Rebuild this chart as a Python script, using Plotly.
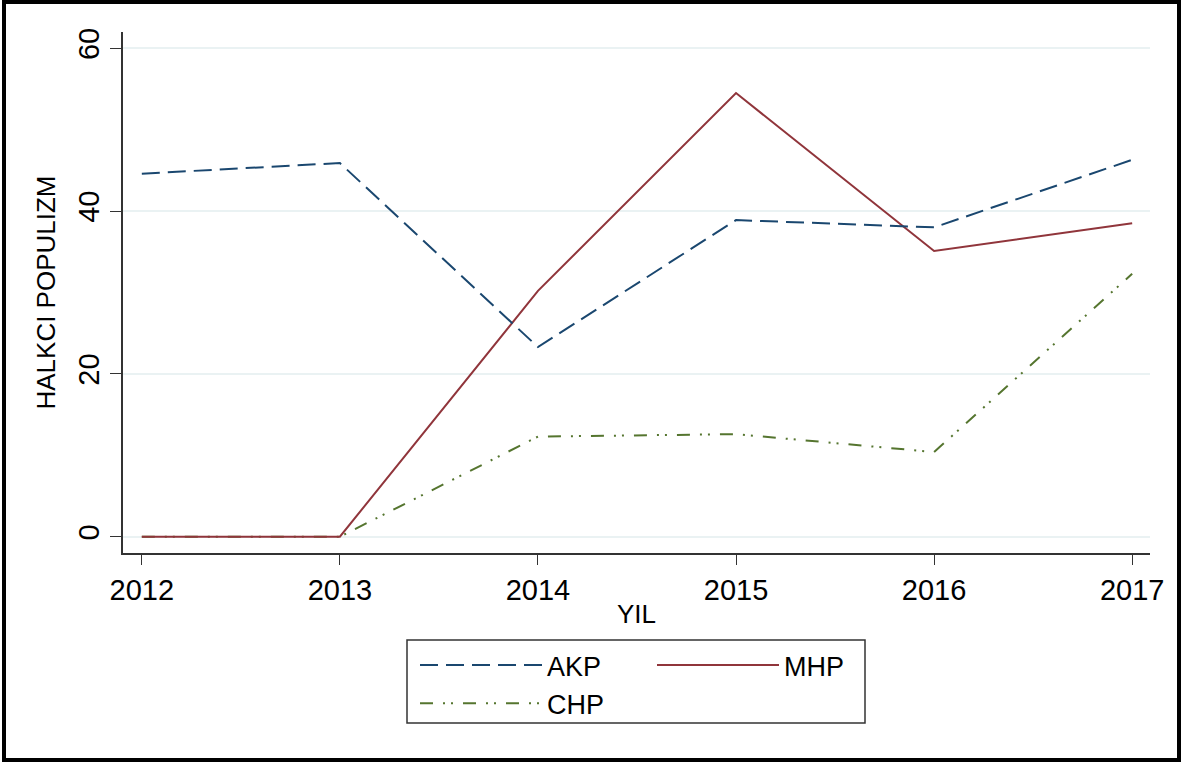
import plotly.graph_objects as go

years = [2012, 2013, 2014, 2015, 2016, 2017]
akp = [44.6, 45.9, 23.3, 38.9, 38.0, 46.3]
mhp = [0.0, 0.0, 30.2, 54.5, 35.1, 38.5]
chp = [0.0, 0.0, 12.3, 12.6, 10.4, 32.3]

FONT = "Liberation Sans, Arial, sans-serif"

fig = go.Figure()
fig.add_trace(go.Scatter(x=years, y=chp, name="CHP", mode="lines",
                         line=dict(color="#55752f", width=2, dash="13px,10px,2px,6px,2px,10px"),
                         legend="legend"))
fig.add_trace(go.Scatter(x=years, y=mhp, name="MHP", mode="lines",
                         line=dict(color="#90353b", width=2),
                         legend="legend2"))
fig.add_trace(go.Scatter(x=years, y=akp, name="AKP", mode="lines",
                         line=dict(color="#1a476f", width=2, dash="18px,8px"),
                         legend="legend"))

W, H = 1182, 763
L, R, T, B = 123, 32, 32, 210
pw, ph = W - L - R, H - T - B

def px(x):
    return (x - L) / pw

def py(y):
    return (H - B - y) / ph

fig.update_layout(
    width=W, height=H,
    margin=dict(l=L, r=R, t=T, b=B),
    paper_bgcolor="white", plot_bgcolor="white",
    font=dict(family=FONT, color="black"),
    xaxis=dict(range=[2011.905, 2017.09], tickvals=years, ticktext=[str(y) for y in years],
               ticks="outside", ticklen=10, tickcolor="#333", tickwidth=1.2,
               showline=True, linecolor="#333", linewidth=1.5, showgrid=False, zeroline=False,
               tickfont=dict(size=29, family=FONT),
               title=dict(text="YIL", font=dict(size=26, family=FONT), standoff=0)),
    yaxis=dict(range=[-2, 62], tickvals=[0, 20, 40, 60],
               ticks="outside", ticklen=11, tickcolor="#333", tickwidth=1.2, tickangle=-90,
               showline=True, linecolor="#333", linewidth=1.5,
               showgrid=True, gridcolor="#eaf2f3", gridwidth=1.5, zeroline=False,
               tickfont=dict(size=29, family=FONT),
               title=dict(text="HALKCI POPULIZM", font=dict(size=26, family=FONT), standoff=10)),
    legend=dict(x=px(415), y=py(641), xanchor="left", yanchor="top",
                traceorder="reversed", font=dict(size=27, family=FONT),
                bgcolor="rgba(0,0,0,0)", borderwidth=0, itemwidth=122, tracegroupgap=0),
    legend2=dict(x=px(652), y=py(641), xanchor="left", yanchor="top",
                 font=dict(size=27, family=FONT),
                 bgcolor="rgba(0,0,0,0)", borderwidth=0, itemwidth=122),
    shapes=[
        dict(type="rect", xref="paper", yref="paper",
             x0=px(407), x1=px(865), y0=py(640), y1=py(723),
             line=dict(color="#333", width=1.5), fillcolor="rgba(0,0,0,0)"),
        dict(type="rect", xref="paper", yref="paper",
             x0=px(4), x1=px(1179), y0=py(2), y1=py(760),
             line=dict(color="black", width=4), fillcolor="rgba(0,0,0,0)"),
    ],
)

fig.write_html("out.html", config={"displayModeBar": False},
               post_script="document.body.style.margin='0';document.body.style.overflow='hidden';")
